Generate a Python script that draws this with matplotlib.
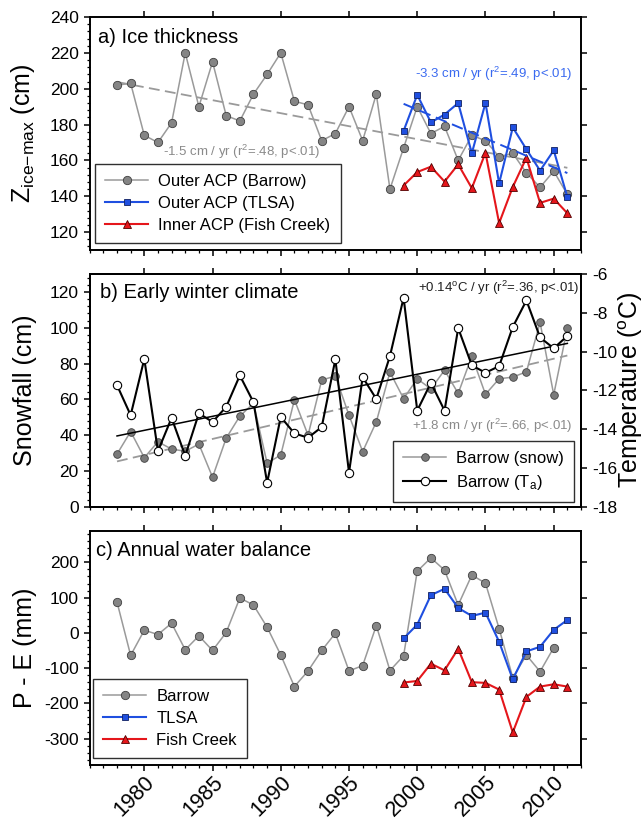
import numpy as np
import matplotlib
matplotlib.use('Agg')
import matplotlib.pyplot as plt
from matplotlib.ticker import MultipleLocator

plt.rcParams['font.family'] = ['Liberation Sans', 'DejaVu Sans']
plt.rcParams['mathtext.fontset'] = 'custom'
plt.rcParams['mathtext.rm'] = 'Liberation Sans'
plt.rcParams['mathtext.it'] = 'Liberation Sans:italic'
plt.rcParams['mathtext.bf'] = 'Liberation Sans:bold'
plt.rcParams['axes.unicode_minus'] = False

# a) ice thickness (cm)
years_barrow = np.arange(1978, 2012)
ice_barrow = [202, 203, 174, 170, 181, 220, 190, 215, 185, 182, 197, 208, 220, 193,
              191, 171, 175, 190, 171, 197, 144, 167, 190, 175, 179, 160, 174, 171,
              162, 164, 153, 145, 154, 141]
years_acp = np.arange(1999, 2012)
ice_tlsa = [176.5, 196.6, 181.2, 185.6, 192, 164, 192.1, 147.2, 178.4, 166.2, 154.3,
            165.6, 139.6]
ice_fish = [146, 153.5, 156.5, 148.2, 157.8, 144.5, 164.3, 125, 145.2, 161.5, 136.3,
            138.7, 130.5]

# b) early winter snowfall (cm) and air temperature (C)
snow_barrow = [29.4, 42, 27.4, 36.3, 32.2, 31, 35, 16.5, 38.3, 50.6, 57.8, 24.3, 28.9,
               59.8, 40, 70.8, 73, 51.1, 30.8, 47.4, 75.2, 60.4, 71.5, 65.8, 76.3, 63.3,
               84.1, 62.8, 71.5, 72.4, 75.4, 103, 62.6, 99.8]
temp_barrow = [-11.73, -13.28, -10.38, -15.13, -13.42, -15.37, -13.18, -13.63, -12.85,
               -11.23, -12.61, -16.76, -13.37, -14.22, -14.44, -13.89, -10.40, -16.24,
               -11.32, -12.44, -10.23, -7.22, -13.04, -11.61, -13.04, -8.79, -10.71,
               -11.09, -10.75, -8.73, -7.36, -9.27, -9.83, -9.19]

# c) annual water balance P - E (mm)
years_pe = np.arange(1978, 2011)
pe_barrow = [87.6, -64, 7.5, -4.7, 27.3, -48, -8.5, -50, 1, 99, 79, 16, -63, -152.5,
             -108, -50, -1, -108, -93, 20.7, -107, -65, 175, 212.8, 178, 79, 164, 141,
             12, -127, -63, -110, -42]
pe_tlsa = [-16, 23.5, 107, 125, 70.6, 48, 57.4, -25.4, -132, -52.7, -39.5, 8.5, 36.7]
pe_fish = [-141, -136.5, -87.6, -106.4, -45, -140, -142, -161, -282.5, -181.7, -152.5,
           -146, -152.5]

GRAY_LINE = '#9a9a9a'
GRAY_FACE = '#858585'
BLUE = '#1f4fe0'
RED = '#e5161b'

fig = plt.figure(figsize=(6.44, 8.23), dpi=100)
left, width = 0.1393, 0.7629
ax_a = fig.add_axes([left, 0.6962, width, 0.2831])
ax_b = fig.add_axes([left, 0.3843, width, 0.2827])
ax_c = fig.add_axes([left, 0.0705, width, 0.2847])

legend_kw = dict(borderaxespad=0, fontsize=12, frameon=True, fancybox=False,
                 edgecolor='#303030', framealpha=1, handlelength=2.6,
                 labelspacing=0.42, borderpad=0.6, handletextpad=0.6)


def style_axes(ax, minor_y, right_ticks=True):
    ax.set_xlim(1976, 2012)
    ax.xaxis.set_major_locator(MultipleLocator(5))
    ax.xaxis.set_minor_locator(MultipleLocator(1))
    ax.yaxis.set_minor_locator(MultipleLocator(minor_y))
    ax.tick_params(which='major', direction='out', length=4.5, width=1.1,
                   labelsize=12.5, top=True, right=right_ticks, labelbottom=False)
    ax.tick_params(which='minor', direction='out', length=2.5, width=0.9,
                   top=False, right=False)
    for s in ax.spines.values():
        s.set_linewidth(1.4)


def trend(ax, x, y, **kw):
    p = np.polyfit(x, y, 1)
    xx = np.array([x[0], x[-1]])
    ax.plot(xx, np.polyval(p, xx), **kw)


# ---- panel a
style_axes(ax_a, 4)
ax_a.set_ylim(110, 240)
ax_a.yaxis.set_major_locator(MultipleLocator(20))
trend(ax_a, years_barrow, ice_barrow, color=GRAY_LINE, ls=(0, (6, 3)), lw=1.3, zorder=2)
ax_a.plot(years_barrow, ice_barrow, '-o', color=GRAY_LINE, lw=1.1, ms=6,
          mfc=GRAY_FACE, mec='#404040', mew=0.6, label='Outer ACP (Barrow)', zorder=3)
trend(ax_a, years_acp, ice_tlsa, color=BLUE, ls=(0, (6, 3)), lw=1.4, zorder=5)
ax_a.plot(years_acp, ice_tlsa, '-s', color=BLUE, lw=1.5, ms=5,
          mfc=BLUE, mec='#102060', mew=0.6, label='Outer ACP (TLSA)', zorder=4)
ax_a.plot(years_acp, ice_fish, '-^', color=RED, lw=1.5, ms=5.5,
          mfc=RED, mec='#500000', mew=0.6, label='Inner ACP (Fish Creek)', zorder=4)
ax_a.text(1987.1, 165, '-1.5 cm / yr (r$^2$=.48, p<.01)', color='#8a8a8a',
          fontsize=9.5, ha='center', va='center')
ax_a.text(2005.6, 208, '-3.3 cm / yr (r$^2$=.49, p<.01)', color='#3a6af0',
          fontsize=9.5, ha='center', va='center')
ax_a.text(0.016, 0.887, 'a) Ice thickness', transform=ax_a.transAxes,
          fontsize=14.5, va='baseline')
ax_a.set_ylabel('Z$_{\\rm ice{-}max}$ (cm)', fontsize=18)
ax_a.yaxis.set_label_coords(-0.108, 0.5)
ax_a.legend(loc='lower left', bbox_to_anchor=(0.011, 0.03), **legend_kw)

# ---- panel b
style_axes(ax_b, 4, right_ticks=False)
ax_b.set_ylim(0, 130)
ax_b.yaxis.set_major_locator(MultipleLocator(20))
trend(ax_b, years_barrow, snow_barrow, color=GRAY_LINE, ls=(0, (6, 3)), lw=1.3, zorder=2)
h_snow, = ax_b.plot(years_barrow, snow_barrow, '-o', color=GRAY_LINE, lw=1.1, ms=5.5,
                    mfc='#7a7a7a', mec='#404040', mew=0.6, label='Barrow (snow)', zorder=3)
ax_b.text(2005.5, 45.4, '+1.8 cm / yr (r$^2$=.66, p<.01)', color='#8a8a8a',
          fontsize=9.5, ha='center', va='center')
ax_b.text(0.021, 0.897, 'b) Early winter climate', transform=ax_b.transAxes,
          fontsize=14.5, va='baseline')
ax_b.set_ylabel('Snowfall (cm)', fontsize=18)
ax_b.yaxis.set_label_coords(-0.108, 0.5)

ax_t = ax_b.twinx()
ax_t.set_ylim(-18, -6)
ax_t.yaxis.set_major_locator(MultipleLocator(2))
ax_t.tick_params(which='major', direction='out', length=4.5, width=1.1, labelsize=12.5)
for s in ax_t.spines.values():
    s.set_linewidth(1.4)
trend(ax_t, years_barrow, temp_barrow, color='black', lw=1.1, zorder=2)
h_temp, = ax_t.plot(years_barrow, temp_barrow, '-o', color='black', lw=1.5, ms=6,
                    mfc='white', mec='black', mew=0.8, label='Barrow (T$_{\\rm a}$)',
                    zorder=3)
ax_t.text(2006.0, -6.7, '+0.14$^{\\rm o}$C / yr (r$^2$=.36, p<.01)', color='#202020',
          fontsize=9.5, ha='center', va='center')
ax_t.set_ylabel('Temperature ($^{\\rm o}$C)', fontsize=18)
ax_t.yaxis.set_label_coords(1.073, 0.5)
ax_t.legend(handles=[h_snow, h_temp], loc='lower right', bbox_to_anchor=(0.986, 0.02),
            **legend_kw)

# ---- panel c
style_axes(ax_c, 20)
ax_c.set_ylim(-375, 290)
ax_c.yaxis.set_major_locator(MultipleLocator(100))
ax_c.plot(years_pe, pe_barrow, '-o', color=GRAY_LINE, lw=1.1, ms=6,
          mfc=GRAY_FACE, mec='#404040', mew=0.6, label='Barrow', zorder=3)
ax_c.plot(years_acp, pe_tlsa, '-s', color=BLUE, lw=1.5, ms=5,
          mfc=BLUE, mec='#102060', mew=0.6, label='TLSA', zorder=4)
ax_c.plot(years_acp, pe_fish, '-^', color=RED, lw=1.5, ms=5.5,
          mfc=RED, mec='#500000', mew=0.6, label='Fish Creek', zorder=4)
ax_c.text(0.013, 0.891, 'c) Annual water balance', transform=ax_c.transAxes,
          fontsize=14.5, va='baseline')
ax_c.set_ylabel('P - E (mm)', fontsize=18)
ax_c.yaxis.set_label_coords(-0.108, 0.5)
ax_c.legend(loc='lower left', bbox_to_anchor=(0.007, 0.03), **legend_kw)
ax_c.tick_params(axis='x', which='major', labelbottom=True, pad=0.5)
ax_c.set_xticks(range(1980, 2011, 5))
for lab in ax_c.get_xticklabels():
    lab.set_rotation(45)
    lab.set_ha('right')
    lab.set_va('top')
    lab.set_rotation_mode('anchor')
    lab.set_fontsize(15.5)

fig.savefig('out.png', dpi=100)
